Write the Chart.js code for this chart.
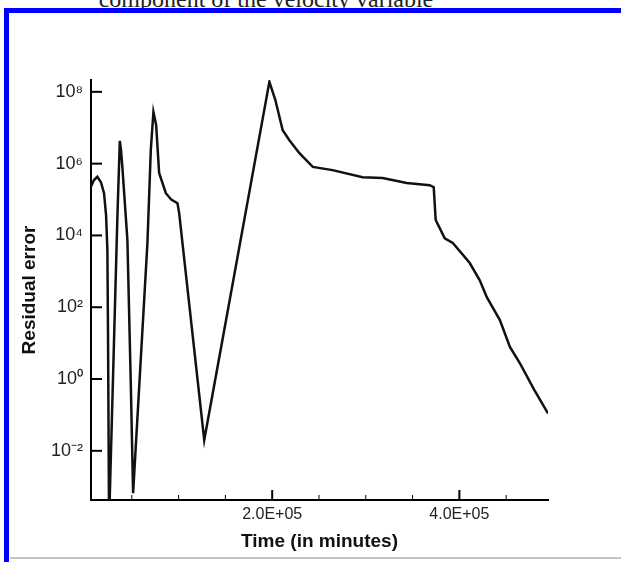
<!DOCTYPE html>
<html>
<head>
<meta charset="utf-8">
<title>Residual error</title>
<script src="https://cdn.jsdelivr.net/npm/chart.js@4/dist/chart.umd.min.js"></script>
<style>
    html, body { margin: 0; padding: 0; background: #fff; }
    #page { position: relative; width: 621px; height: 562px; overflow: hidden; background: #fff; }
    .caption {
        position: absolute; left: 66px; width: 400px; top: -13px;
        text-align: center; font: 24px/24px "Liberation Serif", serif; color: #222;
        white-space: nowrap;
    }
    .frame-top { position: absolute; left: 4px; top: 8px; width: 617px; height: 5px; background: #0000ff; }
    .frame-left { position: absolute; left: 4px; top: 8px; width: 5px; height: 554px; background: #0000ff; }
    .frame-bottom { position: absolute; left: 10px; top: 557px; width: 611px; height: 2px; background: #c4c4c4; }
    #chart-box { position: absolute; left: 0; top: 0; width: 621px; height: 562px; }
</style>
</head>
<body>
<div id="page">
    <div class="caption">component of the velocity variable</div>
    <div id="chart-box"><canvas id="residual-chart"></canvas></div>
    <div class="frame-top"></div>
    <div class="frame-left"></div>
    <div class="frame-bottom"></div>
</div>
<script>
// --- DADOS ---
const timeMinutes = [
    6400, 9600, 13200, 17100, 20300, 22500, 23900, 24600, 25700,
    34600, 37200, 38500, 39900, 45300, 48900, 51400,
    66700, 70300, 73100, 76000, 79200, 86400, 92100, 98800, 100600,
    127400,
    197000, 203400, 211200, 218400, 229100, 243400, 264500, 296600, 318000,
    343700, 368300, 372600, 374700, 384400, 393000, 411100, 421800, 429300,
    443300, 454000, 464700, 480000, 494700
];
const residualError = [
    2.3e5, 3.5e5, 4.3e5, 3.0e5, 1.5e5, 3.7e4, 3.9e3, 15, 1e-4,
    3.3e4, 4.3e6, 2.3e6, 8.1e5, 7.4e3, 0.78, 6.6e-4,
    6.2e3, 2.4e6, 2.75e7, 1.2e7, 5.5e5, 1.5e5, 1.0e5, 7.9e4, 4.2e4,
    0.02,
    1.9e8, 5.9e7, 8.5e6, 4.5e6, 1.95e6, 8.1e5, 6.6e5, 4.2e5, 4.0e5,
    2.9e5, 2.5e5, 2.2e5, 2.7e4, 8.3e3, 6.2e3, 1.7e3, 560, 190,
    44, 7.8, 2.75, 0.5, 0.11
];
const xTicks = [50000, 100000, 150000, 200000, 250000, 300000, 350000, 400000, 450000];
const xLabeled = [200000, 400000];
const yTicks = [1e-2, 1, 1e2, 1e4, 1e6, 1e8];
const yTickLabels = ['10⁻²', '10⁰', '10²', '10⁴', '10⁶', '10⁸'];

document.addEventListener('DOMContentLoaded', () => {

    // marcas de escala para dentro (estilo Tecplot)
    const inwardTicks = {
        id: 'inwardTicks',
        afterDatasetsDraw(chart) {
            const { ctx, chartArea, scales } = chart;
            ctx.save();
            ctx.strokeStyle = '#000';
            scales.x.ticks.forEach(t => {
                const px = scales.x.getPixelForValue(t.value);
                const major = xLabeled.includes(t.value);
                ctx.lineWidth = major ? 2 : 1;
                ctx.beginPath();
                ctx.moveTo(px, chartArea.bottom);
                ctx.lineTo(px, chartArea.bottom - (major ? 10 : 5));
                ctx.stroke();
            });
            ctx.lineWidth = 2;
            scales.y.ticks.forEach(t => {
                const py = scales.y.getPixelForValue(t.value);
                ctx.beginPath();
                ctx.moveTo(chartArea.left, py);
                ctx.lineTo(chartArea.left + 11, py);
                ctx.stroke();
            });
            ctx.restore();
        }
    };

    const ctx = document.getElementById('residual-chart').getContext('2d');
    new Chart(ctx, {
        type: 'line',
        data: {
            labels: timeMinutes,
            datasets: [{
                data: timeMinutes.map((t, i) => ({ x: t, y: residualError[i] })),
                borderColor: '#111',
                borderWidth: 2.5,
                pointRadius: 0,
                tension: 0,
                fill: false
            }]
        },
        options: {
            responsive: true,
            maintainAspectRatio: false,
            animation: false,
            layout: { padding: { left: 10, top: 80, right: 73, bottom: 4 } },
            plugins: { legend: { display: false }, tooltip: { enabled: false } },
            scales: {
                x: {
                    type: 'linear',
                    min: 6400,
                    max: 494700,
                    grid: { display: false, drawTicks: false },
                    border: { display: true, color: '#000', width: 2 },
                    afterBuildTicks: (scale) => { scale.ticks = xTicks.map(v => ({ value: v })); },
                    afterFit: (scale) => { scale.height = 58; },
                    ticks: {
                        autoSkip: false,
                        maxRotation: 0,
                        padding: 5,
                        color: '#222',
                        font: { family: 'Liberation Sans', size: 16 },
                        callback: (v) => xLabeled.includes(v) ? (v / 1e5).toFixed(1) + 'E+05' : ''
                    },
                    title: {
                        display: true,
                        text: 'Time (in minutes)',
                        color: '#111',
                        font: { family: 'Liberation Sans', size: 19, weight: 'bold' },
                        padding: { top: 0, bottom: 5 }
                    }
                },
                y: {
                    type: 'logarithmic',
                    min: Math.pow(10, -3.37),
                    max: Math.pow(10, 8.33),
                    grid: { display: false, drawTicks: false },
                    border: { display: true, color: '#000', width: 2 },
                    afterBuildTicks: (scale) => { scale.ticks = yTicks.map(v => ({ value: v })); },
                    afterFit: (scale) => { scale.width = 81; },
                    ticks: {
                        autoSkip: false,
                        padding: 8,
                        color: '#222',
                        font: { family: 'Liberation Sans', size: 18 },
                        callback: (v) => {
                            const i = yTicks.findIndex(t => Math.abs(Math.log10(t) - Math.log10(v)) < 1e-6);
                            return i >= 0 ? yTickLabels[i] : '';
                        }
                    },
                    title: {
                        display: true,
                        text: 'Residual error',
                        color: '#111',
                        font: { family: 'Liberation Sans', size: 19, weight: 'bold' },
                        padding: { top: 8, bottom: 0 }
                    }
                }
            }
        },
        plugins: [inwardTicks]
    });
});
</script>
</body>
</html>
